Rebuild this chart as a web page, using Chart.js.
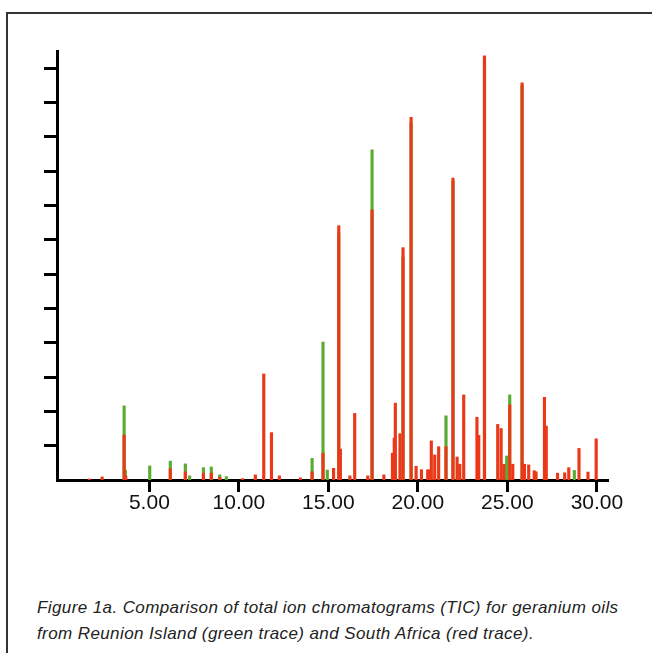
<!DOCTYPE html>
<html>
<head>
<meta charset="utf-8">
<script src="https://cdn.jsdelivr.net/npm/chart.js@4.4.1/dist/chart.umd.min.js"></script>
<style>
  html, body { margin: 0; padding: 0; background: #fff; }
  body { width: 652px; height: 653px; position: relative; overflow: hidden; }
  #frame {
    position: absolute; left: 6px; top: 12px; right: -10px; bottom: -10px;
    border-top: 2px solid #333; border-left: 2px solid #333;
  }
  #chartBox { position: absolute; left: 0; top: 0; width: 652px; height: 560px; }
  #caption {
    position: absolute; left: 37px; top: 595px; width: 612px;
    font-family: "Liberation Sans", Arial, sans-serif; font-style: italic;
    font-size: 17px; letter-spacing: 0.4px; line-height: 26px; color: #222; white-space: nowrap;
  }
</style>
</head>
<body>
<div id="frame"></div>
<div id="chartBox"><canvas id="tic" width="652" height="560"></canvas></div>
<div id="caption">Figure 1a. Comparison of total ion chromatograms (TIC) for geranium oils<br>from Reunion Island (green trace) and South Africa (red trace).</div>
<script>
// retention time (min) and abundance (axis tick units) of visible peaks
const greenTimes = [3.59, 3.66, 5.02, 6.17, 7.01, 7.25, 8.02, 8.46, 8.93, 9.30,
  14.09, 14.70, 14.94, 15.58, 17.44, 18.74, 19.17, 19.62, 21.57, 21.96,
  23.72, 24.96, 25.13, 25.82, 27.08, 28.74];
const greenHeights = [2.16, 0.29, 0.41, 0.55, 0.47, 0.12, 0.36, 0.38, 0.15, 0.10,
  0.63, 4.02, 0.29, 7.2, 9.62, 0.73, 6.5, 10.4, 1.87, 8.7,
  12.3, 0.70, 2.48, 11.5, 0.29, 0.28];

const redTimes = [1.65, 2.36, 3.59, 3.68, 6.17, 7.01, 8.02, 8.46, 8.93, 10.20,
  10.92, 11.39, 11.82, 12.26, 13.44, 14.09, 14.70, 15.29, 15.58, 15.67,
  16.20, 16.47, 17.20, 17.44, 18.10, 18.58, 18.68, 18.74, 19.00, 19.17,
  19.62, 19.90, 20.20, 20.55, 20.64, 20.75, 20.94, 21.16, 21.57, 21.96,
  22.19, 22.34, 22.56, 23.30, 23.40, 23.72, 24.46, 24.65, 24.80, 25.13,
  25.30, 25.82, 25.95, 26.19, 26.50, 26.60, 27.07, 27.17, 27.80, 28.20,
  28.43, 29.00, 29.50, 29.96];
const redHeights = [0.03, 0.09, 1.31, 0.12, 0.33, 0.24, 0.20, 0.20, 0.08, 0.04,
  0.15, 3.09, 1.38, 0.12, 0.06, 0.24, 0.78, 0.34, 7.41, 0.90,
  0.12, 1.94, 0.12, 7.87, 0.15, 0.78, 1.22, 2.24, 1.35, 6.77,
  10.57, 0.40, 0.30, 0.30, 0.29, 1.14, 0.73, 0.97, 0.97, 8.80,
  0.67, 0.46, 2.48, 1.83, 1.30, 12.36, 1.62, 1.50, 0.46, 2.19,
  0.46, 11.57, 0.46, 0.44, 0.27, 0.24, 2.41, 1.57, 0.20, 0.21,
  0.36, 0.92, 0.23, 1.20];

const xTicks = [5, 10, 15, 20, 25, 30];

function toPoints(times, heights) {
  return times.map((t, i) => ({ x: t, y: heights[i] }));
}

const chart = new Chart(document.getElementById("tic"), {
  type: "bar",
  data: {
    datasets: [
      {
        label: "South Africa",
        data: toPoints(redTimes, redHeights),
        backgroundColor: "rgb(234, 56, 24)",
        barThickness: 2.5,
        grouped: false,
        order: 0,
      },
      {
        label: "Reunion Island",
        data: toPoints(greenTimes, greenHeights),
        backgroundColor: "rgb(88, 172, 50)",
        barThickness: 2.5,
        grouped: false,
        order: 1,
      },
    ],
  },
  options: {
    responsive: false,
    animation: false,
    layout: { padding: { top: 51, right: 44, left: 0, bottom: 0 } },
    plugins: { legend: { display: false }, tooltip: { enabled: false } },
    scales: {
      x: {
        type: "linear",
        offset: false,
        min: -0.16,
        max: 30.62,
        afterBuildTicks: (s) => {
          s.ticks = xTicks.map((v) => ({ value: v }));
        },
        afterFit: (s) => { s.height = 80; },
        border: { display: true, color: "#000", width: 3 },
        grid: { offset: false, drawOnChartArea: false, tickLength: 12, tickWidth: 3, tickColor: "#000" },
        ticks: {
          color: "#111",
          padding: -1,
          font: { family: "Liberation Sans", size: 21 },
          callback: (v) => Number(v).toFixed(2),
        },
      },
      y: {
        min: 0,
        max: 12.5,
        afterBuildTicks: (s) => {
          s.ticks = s.ticks.filter((t) => Number.isInteger(t.value) && t.value > 0);
        },
        afterFit: (s) => { s.width = 57; },
        border: { display: true, color: "#000", width: 3 },
        grid: { drawOnChartArea: false, tickLength: 13, tickWidth: 3, tickColor: "#000" },
        ticks: { stepSize: 1, display: false },
      },
    },
  },
});
</script>
</body>
</html>
